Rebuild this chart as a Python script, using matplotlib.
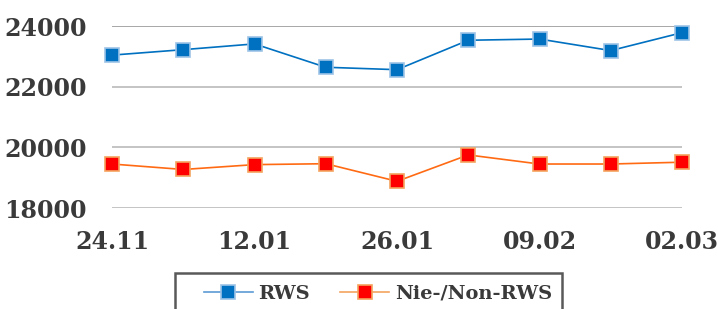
import matplotlib
matplotlib.use('Agg')
import matplotlib.pyplot as plt
from matplotlib.patches import Rectangle

dates = ['24.11', '', '12.01', '', '26.01', '', '09.02', '', '02.03']
rws = [23040, 23220, 23410, 22640, 22560, 23530, 23570, 23190, 23780]
non_rws = [19450, 19270, 19430, 19460, 18880, 19750, 19450, 19450, 19510]
yticks = [18000, 20000, 22000, 24000]

plt.rcParams['font.family'] = ['DejaVu Serif']
plt.rcParams['font.weight'] = 'bold'

fig = plt.figure(figsize=(7.18, 3.09), dpi=100)
ax = fig.add_axes([112 / 718, 101 / 309, 570 / 718, 182 / 309])

x = range(len(rws))
ax.plot(x, rws, color='#0070C0', lw=1.2, marker='s', ms=9.5,
        mfc='#0070C0', mec='#9DC3E6', mew=1.2, label='RWS', clip_on=False, zorder=3)
ax.plot(x, non_rws, color='#FF6A13', lw=1.2, marker='s', ms=9.5,
        mfc='#FF0000', mec='#F4A460', mew=1.2, label='Nie-/Non-RWS', clip_on=False, zorder=3)

ax.set_xlim(0, len(rws) - 1)
ax.set_ylim(18000, 24000)
ax.set_yticks(yticks)
ax.set_xticks(list(x))
ax.set_xticklabels(dates)
ax.yaxis.grid(True, color='#BFBFBF', lw=1.3)
ax.get_ygridlines()[-1].set_color('#A0A0A0')
ax.set_axisbelow(True)
for s in ax.spines.values():
    s.set_visible(False)
ax.tick_params(length=0, labelsize=17, colors='#3A3A3A')
ax.tick_params(axis='y', pad=18)
ax.tick_params(axis='x', pad=16)

# legend box, cut by the bottom edge like the original
fig.patches.append(Rectangle((175 / 718, -0.05), 387 / 718, 0.05 + 1 - 273 / 309,
                             transform=fig.transFigure, fill=False,
                             edgecolor='#595959', lw=1.8))
leg = fig.legend(loc='center left', bbox_to_anchor=(204 / 718, 1 - 294 / 309),
                 ncol=2, frameon=False, fontsize=14, borderpad=0, borderaxespad=0,
                 handlelength=2.5, handletextpad=0.3, columnspacing=1.55,
                 labelcolor='#3A3A3A')
leg.get_lines()[0].set_color('#5B9BD5')
leg.get_lines()[1].set_color('#F4A460')

fig.savefig('out.png', dpi=100)
